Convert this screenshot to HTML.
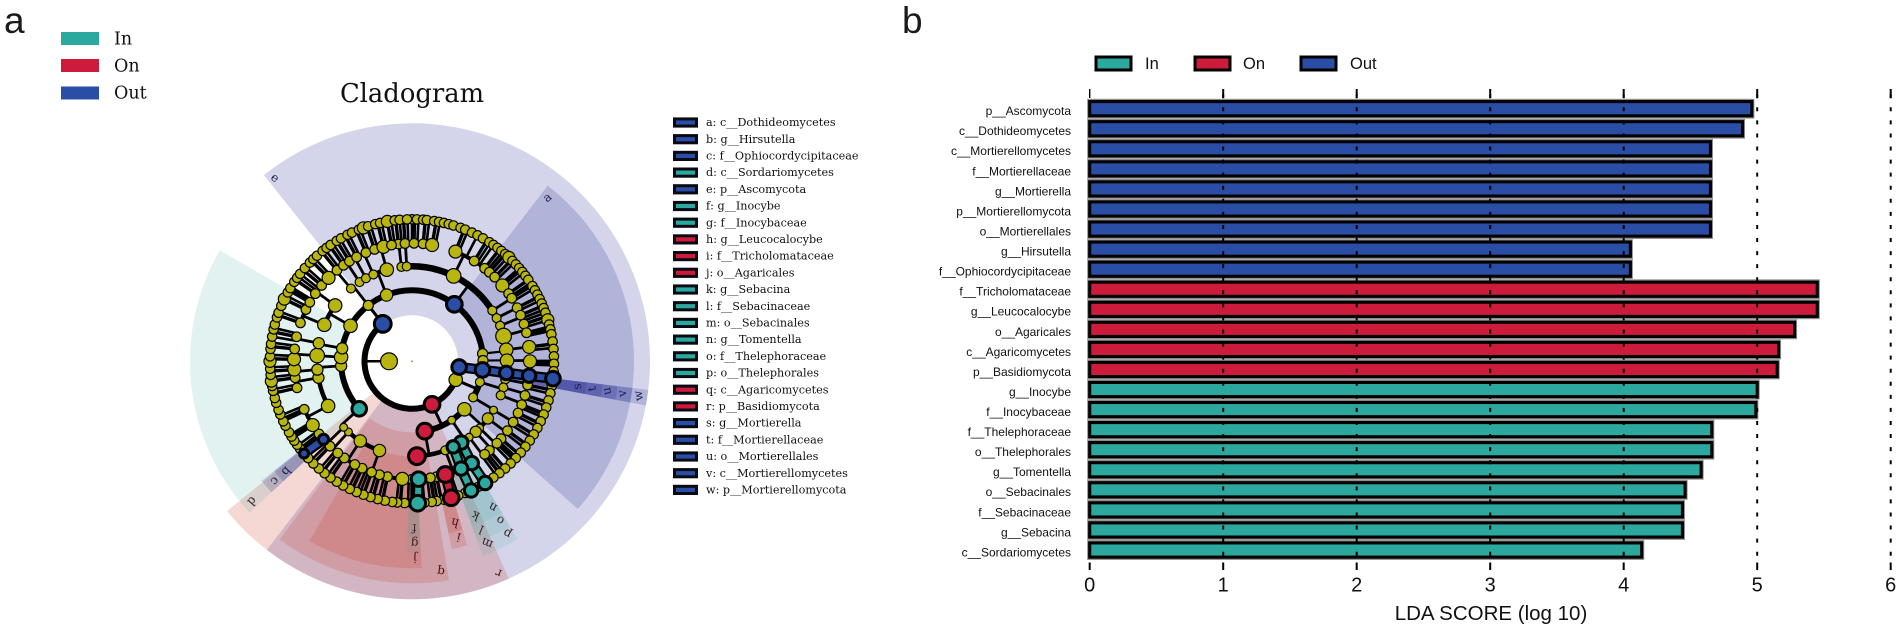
<!DOCTYPE html>
<html lang="en">
<head>
<meta charset="utf-8">
<title>Cladogram and LDA score chart</title>
<style>
html,body{margin:0;padding:0;background:#fff;width:1902px;height:630px;overflow:hidden}
svg{display:block}
.serif{font-family:"DejaVu Serif","Liberation Serif",serif}
.sans{font-family:"Liberation Sans",Arial,sans-serif}
</style>
</head>
<body>
<svg id="chart" xmlns="http://www.w3.org/2000/svg" width="1902" height="630" viewBox="0 0 1902 630">
  <text x="4" y="33" class="sans" font-size="37" fill="#1a1a1a">a</text>
  <text x="902" y="33" class="sans" font-size="37" fill="#1a1a1a">b</text>
  <text x="412" y="102" text-anchor="middle" class="serif" font-size="25.8" fill="#111">Cladogram</text>
  <g>
    <rect x="61" y="32" width="38" height="13" fill="#2ca89e"/>
    <text x="114" y="44.500" class="serif" font-size="17.500" fill="#111">In</text>
    <rect x="61" y="59" width="38" height="13" fill="#cc1b3b"/>
    <text x="114" y="71.500" class="serif" font-size="17.500" fill="#111">On</text>
    <rect x="61" y="86.500" width="38" height="13" fill="#2a4ea6"/>
    <text x="114" y="98.500" class="serif" font-size="17.500" fill="#111">Out</text>
  </g>
  <g id="clado-sectors"></g>
  <g id="clado-tree"></g>
  <g id="clado-labels"></g>
  <g id="clado-key"></g>
  <g>
    <rect x="1096" y="57" width="35" height="13" fill="#2ca89e" stroke="#000" stroke-width="3"/>
    <text x="1145" y="69" class="sans" font-size="16.500" fill="#111">In</text>
    <rect x="1195" y="57" width="35" height="13" fill="#cc1b3b" stroke="#000" stroke-width="3"/>
    <text x="1243" y="69" class="sans" font-size="16.500" fill="#111">On</text>
    <rect x="1301" y="57" width="35" height="13" fill="#2a4ea6" stroke="#000" stroke-width="3"/>
    <text x="1350" y="69" class="sans" font-size="16.500" fill="#111">Out</text>
  </g>
  <g id="lda-bars"></g>
  <g id="lda-axis"></g>
  <text x="1491" y="620" text-anchor="middle" class="sans" font-size="20.500" fill="#111">LDA SCORE (log 10)</text>
</svg>
<script>
/* ---------- LDA bar chart data ---------- */
const taxa = ["p__Ascomycota","c__Dothideomycetes","c__Mortierellomycetes","f__Mortierellaceae","g__Mortierella","p__Mortierellomycota","o__Mortierellales","g__Hirsutella","f__Ophiocordycipitaceae","f__Tricholomataceae","g__Leucocalocybe","o__Agaricales","c__Agaricomycetes","p__Basidiomycota","g__Inocybe","f__Inocybaceae","f__Thelephoraceae","o__Thelephorales","g__Tomentella","o__Sebacinales","f__Sebacinaceae","g__Sebacina","c__Sordariomycetes"];
const ldaScores = [4.96,4.89,4.65,4.65,4.65,4.65,4.65,4.05,4.05,5.45,5.45,5.28,5.16,5.15,5.0,4.99,4.66,4.66,4.58,4.46,4.44,4.44,4.135];
const groups = ["Out","Out","Out","Out","Out","Out","Out","Out","Out","On","On","On","On","On","In","In","In","In","In","In","In","In","In"];
const xTicks = [0,1,2,3,4,5,6];

/* ---------- Cladogram key ---------- */
const keyEntries = ["a: c__Dothideomycetes","b: g__Hirsutella","c: f__Ophiocordycipitaceae","d: c__Sordariomycetes","e: p__Ascomycota","f: g__Inocybe","g: f__Inocybaceae","h: g__Leucocalocybe","i: f__Tricholomataceae","j: o__Agaricales","k: g__Sebacina","l: f__Sebacinaceae","m: o__Sebacinales","n: g__Tomentella","o: f__Thelephoraceae","p: o__Thelephorales","q: c__Agaricomycetes","r: p__Basidiomycota","s: g__Mortierella","t: f__Mortierellaceae","u: o__Mortierellales","v: c__Mortierellomycetes","w: p__Mortierellomycota"];
const keyGroups = ["Out","Out","Out","In","Out","In","In","On","On","On","In","In","In","In","In","In","On","On","Out","Out","Out","Out","Out"];

/* ---------- Cladogram clades: letter, group, level (1 phylum .. 5 genus), start and end angle in degrees clockwise from top ---------- */
const cladeLetters = ["e","a","r","q","j","d","c","b","i","h","g","f","p","o","n","m","l","k","w","v","u","t","s"];
const cladeGroups  = ["Out","Out","On","On","On","In","Out","Out","On","On","In","In","In","In","In","In","In","In","Out","Out","Out","Out","Out"];
const cladeLevels  = [1,2,1,2,3,2,4,5,4,5,4,5,3,4,5,3,4,5,1,2,3,4,5];
const cladeStarts  = [-38.5,37.7,156,170.4,177.3,227,227,227,163.3,163.3,177.4,177.4,149.3,149.3,149.3,155.8,155.8,155.8,96.9,96.9,96.9,96.9,96.9];
const cladeEnds    = [217.6,131.7,231,216.6,209.7,300,231.5,231.5,168,168,181.5,181.5,155.8,155.8,155.8,160,160,160,100.7,100.7,100.7,100.7,100.7];
const levelInner = [46,71,95,118,142];
const levelOuter = [238,222,207,192,176];
const levelLabel = [229,212.500,197,182,167];

/* ---------- Tree rings: each value an angle; rings counted from the centre ---------- */
const ringRadius = [47.5,71,95,118,142];
const ring2Nodes = [[-132,6.5,"In",-38],[-93.7,5,"Y",-38],[-86.6,6,"Y",-38],[-79.5,5,"Y",-38],[-60,6,"Y",-38],[-38,4.5,"Y",-38],[-21,5.5,"Y",-38],[36.6,7,"Out",-38],[83.8,4.5,"Y",-38],[89.4,4.5,"Y",-38],[107,4,"Y",113],[120.6,4,"Y",113],[132.5,6,"Y",155],[146,3.5,"Y",155],[169.6,7,"On",155]];
const ring3Nodes = [[-118,6,"Y",-93.7],[-100,5,"Y",-93.7],[-95,5,"Y",-93.7],[-86.5,6.500,"Y",-86.6],[-79,5,"Y",-79.5],[-67.4,6,"Y",-60],[-54,6,"Y",-60],[-40,4,"Y",-38],[-33.5,4,"Y",-21],[-29,4,"Y",-21],[-24,4,"Y",-21],[-15.4,6,"Y",-21],[-6.4,4,"Y",36.6],[-3.2,4,"Y",36.6],[26,6.5,"Y",36.6],[57.7,4,"Y",36.6],[63,4,"Y",36.6],[68,4,"Y",36.6],[74.6,7,"Y",36.6],[83,6,"Y",36.6],[89.6,6,"Y",36.6],[101,4,"Y",107],[106,4,"Y",107],[111,4,"Y",107],[120.9,3.5,"Y",120.6],[127,5,"Y",132.5],[134.6,3.5,"Y",132.5],[137.9,5,"Y",132.5],[143,3.5,"Y",146],[148.8,6,"In",169.6],[154.3,5.5,"In",169.6],[157.5,4,"Y",169.6],[159.5,4,"Y",169.6],[177,7.5,"On",169.6],[200,5.5,"Y",-132],[213,5.5,"Y",-132],[222,3.5,"Y",-132],[226,3.5,"Y",-132]];
const ring4Angles = [-6.6,-3.4,1,5.4,9.8,21.6,31.8,38,41,44.5,50,55,57.7,63,67,71.6,76,83,90,101.6,106.8,111.6,116,121,126,131,134,139,142,168,171,180,184.7,192,196,200,205,209,215,219,224,232,237.3,246,257,262,266,271,276,282,289,296,300,305,310,315,320.5,324.5,328,332,337,341.5,346,350];
const ring4Large = [9.8,21.6,50,83,90,184.7,237.3,271,266,315,346];
const ring5Angles = [0,2,4.5,6,9,11,13,15,17,20,22,25,27.5,30,33,35,37,39,41,43,45,47,49,51,53,55,58,60,62,64,66,68,70,73,75,77,79,82,85,88,91,94,100,103,106,109,112,115,118,121,124,127,130,133,136,139,142,145,152,158,161,167,170,172,175,180,183,186,188,191,194,197,200,203,206,209,212,215,218,221,224,227,232,234,236,238,240,243,245,248,250,253,255,258,260,262,264.5,267,270,272,275,277,280,283,285,288,290,293,296,299,301,304,306,308,311,314,316,318,321,323,325,328,330,333,335,338,340,342,345,347,350,353,355,358];
const ring5Large = [43,73,262,270,296,340,350];

/* ---------- Highlighted lineages: [group, [ring index, angle, node radius] ...] ---------- */
const lineageGroups = ["Out","In","In","On","In","Out","Out"];
const lineagePaths = [
  [[0,97,6.5],[1,97,6.5],[2,97,6],[3,97,6],[4,97,6.5]],
  [[2,148.8,6],[3,149.6,6],[4,149,6]],
  [[2,154.3,5.5],[3,155.4,6],[4,155.4,6]],
  [[3,163.6,7],[4,164,7]],
  [[3,176.8,6.5],[4,177.7,7]],
  [[3,228.6,4.5],[4,229.5,4]],
  [[0,322,7.5]]
];
const ring1Nodes = [[113,6,"Y"],[155,7,"On"]];

const palette = {In:"#2ca89e",On:"#cc1b3b",Out:"#2a4ea6",Y:"#b9b50f"};
const sectorPalette = {In:"#3fa89a",On:"#cc3c28",Out:"#2a2d96"};
const sectorAlpha = {In:0.15,On:0.2,Out:0.2};

const NS = "http://www.w3.org/2000/svg";
const cx = 412, cy = 361.3;
const nodeScale = 1.12;
function make(parent, tag, attrs, text) {
  const el = document.createElementNS(NS, tag);
  for (const k in attrs) el.setAttribute(k, attrs[k]);
  if (text !== undefined) el.textContent = text;
  parent.appendChild(el);
  return el;
}
function pol(r, deg) {
  const a = deg * Math.PI / 180;
  return [cx + r * Math.sin(a), cy - r * Math.cos(a)];
}
function arcPath(r, a, b) {
  const s = Math.min(a, b), e = Math.max(a, b);
  const p = pol(r, s), q = pol(r, e);
  return "M" + p[0].toFixed(2) + " " + p[1].toFixed(2) + "A" + r + " " + r + " 0 " + (e - s > 180 ? 1 : 0) + " 1 " + q[0].toFixed(2) + " " + q[1].toFixed(2);
}
function sectorPath(r0, r1, a, b) {
  const p = pol(r1, a), q = pol(r1, b), u = pol(r0, b), v = pol(r0, a);
  const large = b - a > 180 ? 1 : 0;
  return "M" + p[0] + " " + p[1] + "A" + r1 + " " + r1 + " 0 " + large + " 1 " + q[0] + " " + q[1] + "L" + u[0] + " " + u[1] + "A" + r0 + " " + r0 + " 0 " + large + " 0 " + v[0] + " " + v[1] + "Z";
}

/* sectors and their letters */
const sectorsG = document.getElementById("clado-sectors");
const labelsG = document.getElementById("clado-labels");
cladeLetters.forEach(function (letter, i) {
  const lvl = cladeLevels[i] - 1;
  const narrowIn = cladeGroups[i] === "In" && lvl >= 2;
  const sec = make(sectorsG, "path", {d: sectorPath(levelInner[lvl], levelOuter[lvl], cladeStarts[i], cladeEnds[i]), fill: sectorPalette[cladeGroups[i]], "fill-opacity": narrowIn ? 0.13 : sectorAlpha[cladeGroups[i]]});
  
  
  const width = cladeEnds[i] - cladeStarts[i];
  const th = cladeStarts[i] + Math.min(width / 2, 1.8);
  const p = pol(levelLabel[lvl], th);
  const lab = make(labelsG, "text", {x: p[0], y: p[1], "text-anchor": "middle", "dominant-baseline": "central", "font-size": 12, fill: cladeGroups[i] === "On" ? "#4a1018" : cladeGroups[i] === "In" ? "#3a2228" : "#20204e", "class": "serif", transform: "rotate(" + (-th) + " " + p[0] + " " + p[1] + ")"}, letter);
  
  
});

/* tree */
const treeG = document.getElementById("clado-tree");
const edgesG = make(treeG, "g", {fill: "none", stroke: "#000", "stroke-linecap": "butt"});


const nodesG = make(treeG, "g", {});



function edgeRadial(ra, rb, th, w) {
  const p = pol(ra, th), q = pol(rb, th);
  const el = make(edgesG, "line", {x1: p[0], y1: p[1], x2: q[0], y2: q[1], "stroke-width": w});
  
  
}
function edgeArc(r, a, b, w) {
  const el = make(edgesG, "path", {d: arcPath(r, a, b), "stroke-width": w});
  
  
}
function node(r, th, rad, group) {
  const p = pol(r, th);
  const colored = group !== "Y";
  const el = make(nodesG, "circle", {cx: p[0], cy: p[1], r: rad * nodeScale, fill: palette[group], stroke: "#000", "stroke-width": colored ? 3 : 1.2});
  
  
}
function nearest(list, th) {
  let best = list[0];
  list.forEach(function (v) { if (Math.abs(wrap(v - th)) < Math.abs(wrap(best - th))) best = v; });
  return best;
}
function wrap(d) { return ((d + 540) % 360) - 180; }
function unwrapTo(v, ref) { return ref + wrap(v - ref); }

/* root and first ring */
edgeRadial(23, ringRadius[0], 270, 2.5);
edgeArc(ringRadius[0], 97, 322, 6);
[-38,113,155].forEach(function (p) {
  const kids = ring2Nodes.filter(function (n) { return n[3] === p; }).map(function (n) { return n[0]; });
  edgeRadial(ringRadius[0], ringRadius[1], p, 3);
  edgeArc(ringRadius[1], Math.min.apply(null, kids.concat(p)), Math.max.apply(null, kids.concat(p)), 6);
});
/* second ring to third ring */
ring2Nodes.forEach(function (n) {
  const kids = ring3Nodes.filter(function (m) { return m[3] === n[0]; }).map(function (m) { return m[0]; });
  if (!kids.length) return;
  const base = n[0] < 0 && kids[0] > 90 ? 360 : 0;
  const a = kids.concat(n[0] + base);
  edgeRadial(ringRadius[1], ringRadius[2], n[0], 2.8);
  edgeArc(ringRadius[2], Math.min.apply(null, a), Math.max.apply(null, a), n[0] === 36.6 ? 6.5 : 4.5);
});
edgeRadial(ringRadius[1], ringRadius[2], 83.8, 2.2);
edgeRadial(ringRadius[1], ringRadius[2], 89.4, 2.2);
/* third ring to fourth ring */
const r3Yellow = ring3Nodes.filter(function (n) { return n[2] === "Y"; }).map(function (n) { return n[0]; });
const r3Kids = {};
ring4Angles.forEach(function (a) {
  const p = nearest(r3Yellow, a);
  (r3Kids[p] = r3Kids[p] || []).push(unwrapTo(a, p));
});
Object.keys(r3Kids).forEach(function (k) {
  const p = parseFloat(k), list = r3Kids[k].concat(p);
  edgeRadial(ringRadius[2], ringRadius[3], p, 2.8);
  edgeArc(ringRadius[3], Math.min.apply(null, list), Math.max.apply(null, list), 4);
});
/* fourth ring to fifth ring */
const r4Kids = {};
ring5Angles.forEach(function (a) {
  const p = nearest(ring4Angles, a);
  (r4Kids[p] = r4Kids[p] || []).push(unwrapTo(a, p));
});
ring4Angles.forEach(function (p) {
  const list = (r4Kids[p] || []).concat(p);
  edgeRadial(ringRadius[3], ringRadius[4], p, 3.4);
  edgeRadial(ringRadius[3], ringRadius[4], p + 1.6, 2.6);
  edgeArc(ringRadius[4], Math.min.apply(null, list), Math.max.apply(null, list), 3);
});
ring5Angles.forEach(function (a) { if (Math.round(a) % 7 === 0) edgeRadial(ringRadius[3] + 2, ringRadius[4], a, 2.6); });

/* lineage bands */
lineagePaths.forEach(function (path, i) {
  if (path.length < 2) return;
  for (let pass = 0; pass < 2; pass++) {
    for (let j = 0; j < path.length - 1; j++) {
      const p = pol(ringRadius[path[j][0]], path[j][1]), q = pol(ringRadius[path[j + 1][0]], path[j + 1][1]);
      const band = make(edgesG, "line", {x1: p[0], y1: p[1], x2: q[0], y2: q[1], "stroke-width": pass ? 6 : 10.5, stroke: pass ? palette[lineageGroups[i]] : "#000"});
      
      
    }
  }
});

/* nodes */
node(23, 270, 7.5, "Y");
ring5Angles.forEach(function (a) { node(ringRadius[4], a, ring5Large.indexOf(a) >= 0 ? 5.4 : 4.2, "Y"); });
ring4Angles.forEach(function (a) { node(ringRadius[3], a, ring4Large.indexOf(a) >= 0 ? 5.8 : 4.3, "Y"); });
ring3Nodes.forEach(function (n) { node(ringRadius[2], n[0], n[1], n[2]); });
ring2Nodes.forEach(function (n) { node(ringRadius[1], n[0], n[1], n[2]); });
ring1Nodes.forEach(function (n) { node(ringRadius[0], n[0], n[1], n[2]); });
lineagePaths.forEach(function (path, i) {
  path.forEach(function (n) { node(ringRadius[n[0]], n[1], n[2], lineageGroups[i]); });
});
const dot = make(treeG, "circle", {cx: cx, cy: cy, r: 0.9, fill: "#8a9a10"});



/* taxon key */
const keyG = document.getElementById("clado-key");
keyEntries.forEach(function (entry, i) {
  const y = 122.5 + i * 16.7;
  const box = make(keyG, "rect", {x: 674.5, y: y - 3.6, width: 22, height: 7.2, fill: palette[keyGroups[i]], stroke: "#0a0a14", "stroke-width": 3});
  
  
  const t = make(keyG, "text", {x: 706, y: y + 3.6, "font-size": 11.2, fill: "#111", "class": "serif"}, entry);
  
  
});

/* bar chart */
const barsG = document.getElementById("lda-bars");
const axisG = document.getElementById("lda-axis");
const x0 = 1089.7, xUnit = 133.5, rowTop = 108.7, rowStep = 20.06;
function xScale(v) { return x0 + v * xUnit; }
function yScale(i) { return rowTop + i * rowStep; }
taxa.forEach(function (name, i) {
  const y = yScale(i);
  const under = make(barsG, "rect", {x: xScale(0), y: y - 7.4, width: xScale(ldaScores[i]) - xScale(0), height: 14.8, fill: "none", stroke: "#8d8d8d", "stroke-width": 5});
  
  
});
taxa.forEach(function (name, i) {
  const y = yScale(i);
  const bar = make(barsG, "rect", {x: xScale(0), y: y - 7.1, width: xScale(ldaScores[i]) - xScale(0), height: 14.2, fill: palette[groups[i]], stroke: "#000", "stroke-width": 3.1});
  
  
  const lab = make(barsG, "text", {x: 1071, y: y + 6.4, "text-anchor": "end", "font-size": 12, fill: "#111", "class": "sans"}, name);
  
  
});
xTicks.forEach(function (v) {
  const x = xScale(v);
  if (v > 0) {
    const grid = make(axisG, "line", {x1: x, x2: x, y1: 94.24, y2: 562, stroke: "#000", "stroke-width": 2, "stroke-dasharray": "4 9.07"});
    
    
  }
  const top = make(axisG, "line", {x1: x, x2: x, y1: 89, y2: 98, stroke: "#000", "stroke-width": v === 0 ? 1.4 : 2});
  
  
  const bot = make(axisG, "line", {x1: x, x2: x, y1: 562.5, y2: 570, stroke: "#000", "stroke-width": 2});
  
  
  const lab = make(axisG, "text", {x: x, y: 591.5, "text-anchor": "middle", "font-size": 20, fill: "#111", "class": "sans"}, String(v));
  
  
});
</script>
</body>
</html>
